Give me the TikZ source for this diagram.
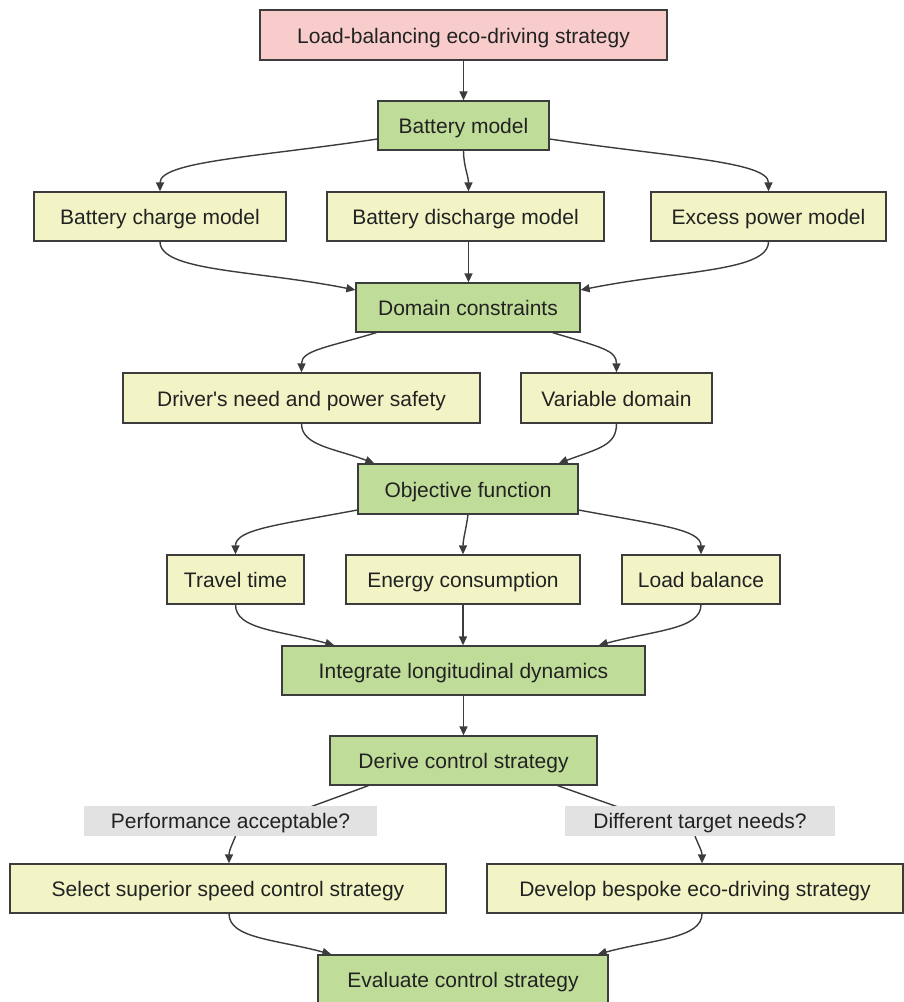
\documentclass[tikz,border=0pt]{standalone}
\usepackage{fontspec}
\setmainfont{Liberation Sans}[Ligatures=TeXOff]
\usetikzlibrary{arrows.meta,calc,backgrounds}
\definecolor{pinkfill}{RGB}{249,204,204}
\definecolor{greenfill}{RGB}{191,220,152}
\definecolor{yellowfill}{RGB}{242,244,198}
\definecolor{labelfill}{RGB}{226,226,226}
\definecolor{edgecol}{RGB}{60,60,60}
\definecolor{textcol}{RGB}{34,34,34}
\tikzset{
  box/.style={draw=edgecol, line width=1.3pt, minimum height=49pt, inner sep=0pt,
    text height=20pt, text depth=4pt,
    font=\fontsize{21}{25}\selectfont, text=textcol},
  rootbox/.style={box, fill=pinkfill},
  mainbox/.style={box, fill=greenfill},
  subbox/.style={box, fill=yellowfill},
  edgelabel/.style={fill=labelfill, minimum height=30pt, inner sep=0pt,
    text height=19.5pt, text depth=4.5pt,
    font=\fontsize{21}{25}\selectfont, text=textcol},
  conn/.style={draw=edgecol, line width=1.4pt, -{Triangle[length=9pt,width=8pt]}},
  plain/.style={draw=edgecol, line width=1.4pt}
}
\begin{document}
\begin{tikzpicture}[x=1pt,y=-1pt]
\useasboundingbox (0,0) rectangle (904,1002);
\node[rootbox, minimum width=407pt, minimum height=50pt] (top) at (463.5,35) {Load-balancing eco-driving strategy};
\node[mainbox, minimum width=171pt] (bm) at (463.5,125.5) {Battery model};
\node[subbox, minimum width=252pt] (bcm) at (160,216.5) {Battery charge model};
\node[subbox, minimum width=277pt] (bdm) at (465.5,216.5) {Battery discharge model};
\node[subbox, minimum width=235pt] (epm) at (768.5,216.5) {Excess power model};
\node[mainbox, minimum width=224pt] (dc) at (468,307.5) {Domain constraints};
\node[subbox, minimum width=357pt, minimum height=50pt] (dn) at (301.5,398) {Driver's need and power safety};
\node[subbox, minimum width=191pt, minimum height=50pt] (vd) at (616.5,398) {Variable domain};
\node[mainbox, minimum width=220pt, minimum height=50pt] (of) at (468,489) {Objective function};
\node[subbox, minimum width=137pt] (tt) at (235.5,579.5) {Travel time};
\node[subbox, minimum width=234pt] (ec) at (463,579.5) {Energy consumption};
\node[subbox, minimum width=158pt] (lb) at (701,579.5) {Load balance};
\node[mainbox, minimum width=363pt] (ild) at (463.5,670.5) {Integrate longitudinal dynamics};
\node[mainbox, minimum width=267pt] (dcs) at (463.5,760.5) {Derive control strategy};
\node[edgelabel, minimum width=293pt] (l1) at (230.5,821) {Performance acceptable?};
\node[edgelabel, minimum width=270pt] (l2) at (700,821) {Different target needs?};
\node[subbox, minimum width=436pt] (sel) at (228,888.5) {Select superior speed control strategy};
\node[subbox, minimum width=416pt] (dev) at (695,888.5) {Develop bespoke eco-driving strategy};
\node[mainbox, minimum width=290pt] (ev) at (463,979.5) {Evaluate control strategy};

\begin{pgfonlayer}{background}
\draw[conn] (top.south) -- (bm.north);
% battery model fan-out
\draw[conn] ($(bm.west)+(0,13.5)$) .. controls +(-120,18) and +(0,-30) .. (bcm.north);
\draw[conn] (bm.south) .. controls +(0,15) and +(0,-15) .. ($(bdm.north)+(3,0)$);
\draw[conn] ($(bm.east)+(0,13.5)$) .. controls +(120,18) and +(0,-30) .. (epm.north);
% fan-in to domain constraints
\draw[conn] (bcm.south) .. controls +(0,30) and +(-100,-20) .. ($(dc.west)+(0,-17.5)$);
\draw[conn] ($(bdm.south)+(3,0)$) -- ($(dc.north)+(0.5,0)$);
\draw[conn] (epm.south) .. controls +(0,30) and +(100,-20) .. ($(dc.east)+(0,-17.5)$);
% domain constraints fan-out
\draw[conn] ($(dc.south west)+(21,0)$) .. controls +(-50,15) and +(0,-22) .. (dn.north);
\draw[conn] ($(dc.south east)+(-28,0)$) .. controls +(50,15) and +(0,-22) .. (vd.north);
% fan-in to objective
\draw[conn] (dn.south) .. controls +(0,22) and +(-40,-15) .. ($(of.north west)+(17,0)$);
\draw[conn] (vd.south) .. controls +(0,22) and +(40,-15) .. ($(of.north east)+(-20,0)$);
% objective fan-out
\draw[conn] ($(of.west)+(0,21)$) .. controls +(-80,15) and +(0,-25) .. (tt.north);
\draw[conn] (of.south) .. controls +(-2,15) and +(0,-15) .. (ec.north);
\draw[conn] ($(of.east)+(0,21)$) .. controls +(80,15) and +(0,-25) .. (lb.north);
% fan-in to integrate
\draw[conn] (tt.south) .. controls +(0,25) and +(-55,-15) .. ($(ild.north west)+(53,0)$);
\draw[conn] (ec.south) -- (ec.south |- ild.north);
\draw[conn] (lb.south) .. controls +(0,25) and +(55,-15) .. ($(ild.north east)+(-47,0)$);
\draw[conn] (ild.south) -- (dcs.north);
% decisions
\draw[plain] ($(dcs.south west)+(39,0)$) -- ($(l1.north)+(72,4)$);
\draw[conn] ($(l1.south)+(5,0)$) .. controls +(-5,12) and +(0,-12) .. ($(sel.north)+(1,0)$);
\draw[plain] ($(dcs.south east)+(-40,0)$) -- ($(l2.north)+(-74,4)$);
\draw[conn] ($(l2.south)+(-5,0)$) .. controls +(5,12) and +(0,-12) .. ($(dev.north)+(7,0)$);
% fan-in to evaluate
\draw[conn] ($(sel.south)+(1,0)$) .. controls +(0,25) and +(-55,-15) .. ($(ev.north west)+(14,0)$);
\draw[conn] ($(dev.south)+(7,0)$) .. controls +(0,25) and +(55,-15) .. ($(ev.north east)+(-11,0)$);
\end{pgfonlayer}
\end{tikzpicture}
\end{document}
